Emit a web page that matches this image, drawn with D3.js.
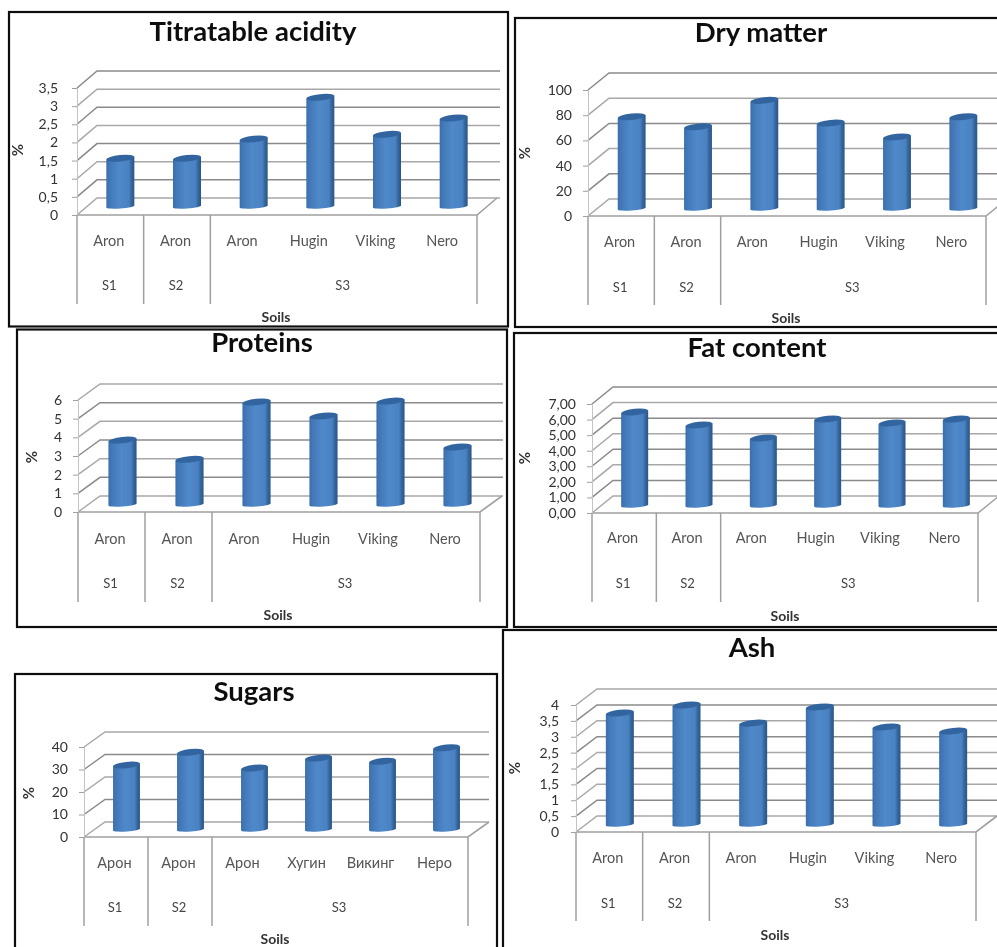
<!DOCTYPE html>
<html>
<head>
<meta charset="utf-8">
<script src="https://cdn.jsdelivr.net/npm/d3@7"></script>
<style>
  body { margin: 0; background: #fff; overflow: hidden; }
  text { font-family: Lato, "Open Sans", sans-serif; }
</style>
</head>
<body>
<script>
// Here's the data
var varieties = ["Aron", "Aron", "Aron", "Hugin", "Viking", "Nero"];
var varietiesRu = ["Арон", "Арон", "Арон", "Хугин", "Викинг", "Неро"];
var soils = ["S1", "S2", "S3"];
var soilSpans = [1, 1, 4];

var acidity = [1.37, 1.37, 1.9, 3.05, 2.03, 2.48];
var dryMatter = [74, 66, 87, 69, 58, 74];
var proteins = [3.53, 2.5, 5.57, 4.82, 5.62, 3.16];
var fat = [6.1, 5.27, 4.43, 5.65, 5.4, 5.65];
var sugars = [29.3, 35, 28, 32.4, 31, 37];
var ash = [3.56, 3.81, 3.24, 3.75, 3.12, 2.99];

var acidityTicks = [0, 0.5, 1, 1.5, 2, 2.5, 3, 3.5];
var dryTicks = [0, 20, 40, 60, 80, 100];
var proteinTicks = [0, 1, 2, 3, 4, 5, 6];
var fatTicks = [0, 1, 2, 3, 4, 5, 6, 7];
var sugarTicks = [0, 10, 20, 30, 40];
var ashTicks = [0, 0.5, 1, 1.5, 2, 2.5, 3, 3.5, 4];

// Where each of the six pasted charts sits on the page
var panels = [
  { title: "Titratable acidity", vals: acidity, ticks: acidityTicks, cats: varieties, dec: 1,
    frame: [9, 12, 508, 326.5], x0: 77, x1: 477, y0: 215, yTop: 88, dx: 20, dy: -17, right: 500, divEnd: 304,
    catY: 241, soilY: 285, soilsAt: [276, 317], titleAt: [253, 31], pctAt: [18, 150], pad: 14, base: 7 },
  { title: "Dry matter", vals: dryMatter, ticks: dryTicks, cats: varieties, dec: 0,
    frame: [515, 18, 1010, 327], x0: 588, x1: 986, y0: 216, yTop: 90, dx: 21, dy: -17, right: 997, divEnd: 305,
    catY: 242, soilY: 287, soilsAt: [786, 318], titleAt: [761, 32], pctAt: [525, 153], pad: 11, base: 6 },
  { title: "Proteins", vals: proteins, ticks: proteinTicks, cats: varieties, dec: 0,
    frame: [17, 329.5, 507, 627], x0: 78, x1: 480, y0: 512, yTop: 400, dx: 22, dy: -16, right: 503, divEnd: 602,
    catY: 539, soilY: 583, soilsAt: [278, 615], titleAt: [262, 342], pctAt: [32, 457], pad: 11, base: 6 },
  { title: "Fat content", vals: fat, ticks: fatTicks, cats: varieties, dec: 2,
    frame: [514, 333, 1010, 627], x0: 592, x1: 978, y0: 513, yTop: 404, dx: 21, dy: -17, right: 997, divEnd: 602,
    catY: 538, soilY: 583, soilsAt: [785, 616], titleAt: [757, 347], pctAt: [525, 458], pad: 11, base: 6 },
  { title: "Sugars", vals: sugars, ticks: sugarTicks, cats: varietiesRu, dec: 0,
    frame: [15, 674, 497, 960], x0: 84, x1: 468, y0: 837, yTop: 747, dx: 21, dy: -15, right: 489, divEnd: 926,
    catY: 863, soilY: 907, soilsAt: [275, 939], titleAt: [254, 691], pctAt: [29, 793], pad: 11, base: 6 },
  { title: "Ash", vals: ash, ticks: ashTicks, cats: varieties, dec: 1,
    frame: [503, 630, 1010, 960], x0: 576, x1: 976, y0: 832, yTop: 705, dx: 21, dy: -16, right: 997, divEnd: 921,
    catY: 858, soilY: 903, soilsAt: [775, 935], titleAt: [752, 647], pctAt: [515, 768], pad: 12, base: 6 }
];

var svg = d3.select("body").append("svg")
    .attr("width", 997)
    .attr("height", 947);

var defs = svg.append("defs");

// The source is a blurry screenshot, so soften everything a touch
defs.append("filter").attr("id", "soft")
    .append("feGaussianBlur").attr("stdDeviation", 0.5);

var barFill = defs.append("linearGradient").attr("id", "barFill");
[[0, "#3a6eaa"], [0.1, "#4177b6"], [0.45, "#5089c9"], [0.8, "#4a82c2"], [0.9, "#34669c"], [1, "#2a5686"]]
  .forEach(function (s) {
    barFill.append("stop").attr("offset", s[0]).attr("stop-color", s[1]);
  });

panels.forEach(drawPanel);

function drawPanel(p) {
  var g = svg.append("g").attr("filter", "url(#soft)");

  g.append("rect")
    .attr("x", p.frame[0]).attr("y", p.frame[1])
    .attr("width", p.frame[2] - p.frame[0]).attr("height", p.frame[3] - p.frame[1])
    .attr("fill", "#fff").attr("stroke", "#111").attr("stroke-width", 2.2);

  var y = d3.scaleLinear().domain([0, d3.max(p.ticks)]).range([p.y0, p.yTop]);
  var x = d3.scaleBand().domain(d3.range(p.cats.length)).range([p.x0, p.x1]);
  var fmt = function (d) { return d3.format("." + p.dec + "f")(d).replace(".", ","); };
  if (p.dec === 1) fmt = function (d) { return String(d).replace(".", ","); };

  // Side wall and back wall grid lines
  g.selectAll(".grid").data(p.ticks).enter().append("path")
    .attr("fill", "none")
    .attr("stroke", function (d, i) { return i % 2 ? "#8a8a8a" : "#a8a8a8"; })
    .attr("stroke-width", 1.5)
    .attr("d", function (d) {
      var gy = y(d);
      return "M" + p.x0 + "," + gy + "L" + (p.x0 + p.dx) + "," + (gy + p.dy) + "L" + p.right + "," + (gy + p.dy);
    });

  // Front edge of the floor, and its right corner
  g.append("path")
    .attr("fill", "none").attr("stroke", "#a0a0a0").attr("stroke-width", 1.6)
    .attr("d", "M" + p.x0 + "," + p.y0 + "L" + p.x1 + "," + p.y0 + "L" + (p.x1 + p.dx) + "," + (p.y0 + p.dy));

  // Value axis
  var axis = d3.axisLeft(y).tickValues(p.ticks).tickFormat(fmt).tickSize(5).tickPadding(p.pad);
  var ag = g.append("g").attr("transform", "translate(" + p.x0 + ",0)").call(axis);
  ag.select(".domain").attr("stroke", "#c4c4c4").attr("stroke-width", 1);
  ag.selectAll(".tick line").attr("stroke", "#a0a0a0");
  ag.selectAll(".tick text").attr("fill", "#333").attr("font-size", 14)
    .attr("font-family", "Lato");

  // Group dividers below the floor
  var edges = [0];
  soilSpans.forEach(function (n, i) { edges.push(edges[i] + n); });
  g.selectAll(".divider").data(edges).enter().append("line")
    .attr("x1", function (d) { return d === p.cats.length ? p.x1 : x(d); })
    .attr("x2", function (d) { return d === p.cats.length ? p.x1 : x(d); })
    .attr("y1", p.y0).attr("y2", p.divEnd)
    .attr("stroke", "#a0a0a0").attr("stroke-width", 1.5);

  g.selectAll(".cat").data(p.cats).enter().append("text")
    .attr("x", function (d, i) { return x(i) + x.bandwidth() / 2 - 1.5; })
    .attr("y", p.catY).attr("dy", "0.35em")
    .attr("text-anchor", "middle").attr("font-size", 14.5).attr("fill", "#555")
    .text(function (d) { return d; });

  g.selectAll(".soil").data(soils).enter().append("text")
    .attr("x", function (d, i) {
      return x(edges[i]) + x.bandwidth() * soilSpans[i] / 2 - 1;
    })
    .attr("y", p.soilY).attr("dy", "0.35em")
    .attr("text-anchor", "middle").attr("font-size", 13).attr("fill", "#444")
    .text(function (d) { return d; });

  // Cylinders, standing halfway back on the floor
  var w = x.bandwidth() * 0.42;
  var shift = p.dx / 2;
  var bars = g.selectAll(".bar").data(p.vals).enter().append("g");

  bars.append("path")
    .attr("fill", "url(#barFill)")
    .attr("d", function (d, i) {
      var cx = x(i) + x.bandwidth() / 2 + shift;
      var bottom = y(0) - p.base;
      var top = y(d) - y(0) + bottom;
      return "M" + (cx - w / 2) + "," + (top + 1.5)
        + "L" + (cx - w / 2) + "," + (bottom - 0.5)
        + "A" + (w / 2) + ",2 -4 0 0 " + (cx + w / 2) + "," + (bottom - 2.5)
        + "L" + (cx + w / 2) + "," + (top - 1.5)
        + "Z";
    });

  bars.append("ellipse")
    .attr("rx", w / 2).attr("ry", 3.2)
    .attr("fill", "#31659f")
    .attr("transform", function (d, i) {
      var cx = x(i) + x.bandwidth() / 2 + shift;
      var top = y(d) - p.base;
      return "translate(" + cx + "," + top + ") rotate(-6)";
    });

  // Titles
  g.append("text")
    .attr("x", p.titleAt[0]).attr("y", p.titleAt[1]).attr("dy", "0.35em")
    .attr("text-anchor", "middle").attr("font-size", 27.5).attr("font-weight", 700).attr("fill", "#111")
    .text(p.title);

  g.append("text")
    .attr("x", p.soilsAt[0]).attr("y", p.soilsAt[1]).attr("dy", "0.35em")
    .attr("text-anchor", "middle").attr("font-size", 14).attr("font-weight", 700).attr("fill", "#333")
    .text("Soils");

  g.append("text")
    .attr("transform", "translate(" + p.pctAt[0] + "," + p.pctAt[1] + ") rotate(-90)")
    .attr("dy", "0.35em")
    .attr("text-anchor", "middle").attr("font-size", 15).attr("font-weight", 700).attr("fill", "#333")
    .text("%");
}
</script>
</body>
</html>
